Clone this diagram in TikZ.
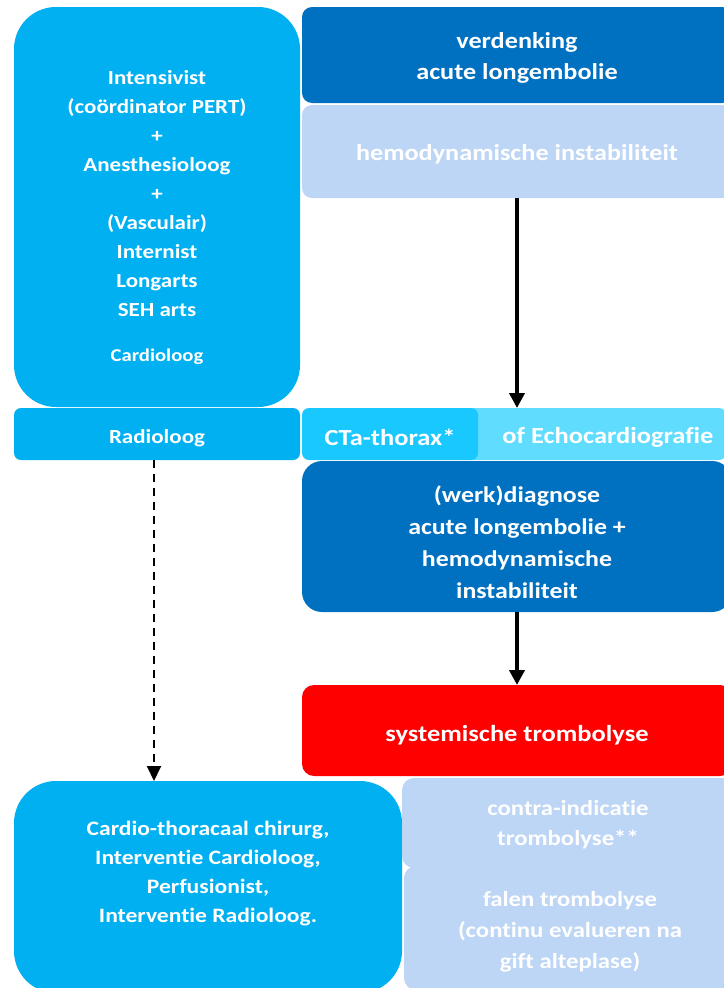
\documentclass[tikz,border=0pt]{standalone}
\usepackage{fontspec}
\setmainfont{Carlito}[FakeStretch=1.15, Ligatures=NoCommon]
\usetikzlibrary{arrows.meta}
\definecolor{cyanbox}{HTML}{00B0F0}
\definecolor{darkbox}{HTML}{0070C0}
\definecolor{lightbox}{HTML}{BED6F5}
\definecolor{ctbox}{HTML}{19C8FF}
\definecolor{echobox}{HTML}{60DCFF}
\definecolor{redbox}{HTML}{FF0000}
\tikzset{
  box/.style={anchor=north west, inner sep=0pt, outer sep=0pt},
  txt/.style={inner sep=0pt, align=center, text=white},
  flow/.style={line width=4pt, -{Triangle[width=15pt,length=15pt]}},
  link/.style={line width=2pt, dash pattern=on 8pt off 6pt, -{Triangle[width=14pt,length=15pt]}},
}
\begin{document}
\begin{tikzpicture}[x=1pt,y=-1pt]
\useasboundingbox (0,0) rectangle (723,988);
% left column
\node[box, fill=cyanbox, rounded corners=42pt, minimum width=286pt, minimum height=400pt] (team) at (14,7) {};
\node[txt, yshift=-11pt, font=\bfseries\fontsize{20}{29}\selectfont] (teamT) at (team.center)
  {Intensivist\\(coördinator PERT)\\+\\Anesthesioloog\\+\\(Vasculair)\\Internist\\Longarts\\SEH arts\\[16pt]{\fontsize{18}{22}\selectfont Cardioloog}};
\node[box, fill=cyanbox, rounded corners=7pt, minimum width=286pt, minimum height=52pt] (radio) at (14,408) {};
\node[txt, yshift=-4pt, font=\bfseries\fontsize{20}{26}\selectfont] (radioT) at (radio.center) {Radioloog};
\node[box, fill=cyanbox, rounded corners=42pt, minimum width=388pt, minimum height=212pt] (interv) at (14,781) {};
\node[txt, yshift=13pt, font=\bfseries\fontsize{20.5}{29}\selectfont] (intervT) at (interv.center)
  {Cardio-thoracaal chirurg,\\Interventie Cardioloog,\\Perfusionist,\\Interventie Radioloog.};
% right column
\node[box, fill=darkbox, rounded corners=10pt, minimum width=430pt, minimum height=96pt] (verd) at (302,7) {};
\node[txt, yshift=-3pt, font=\bfseries\fontsize{22.8}{31}\selectfont] (verdT) at (verd.center)
  {verdenking\\acute longembolie};
\node[box, fill=lightbox, rounded corners=10pt, minimum width=430pt, minimum height=93pt] (hemo) at (302,105) {};
\node[txt, yshift=-3pt, font=\bfseries\fontsize{22.8}{31}\selectfont] (hemoT) at (hemo.center)
  {hemodynamische instabiliteit};
\node[box, fill=echobox, rounded corners=7pt, minimum width=260pt, minimum height=52pt] (echo) at (466,408) {};
\node[txt, yshift=-3pt, xshift=12pt, font=\bfseries\fontsize{23}{26}\selectfont] (echoT) at (echo.center)
  {of Echocardiografie};
\node[box, fill=ctbox, rounded corners=7pt, minimum width=176pt, minimum height=52pt] (cta) at (302,408) {};
\node[txt, yshift=-3pt, font=\bfseries\fontsize{23}{26}\selectfont] (ctaT) at (cta.center)
  {CTa-thorax*};
\node[box, fill=darkbox, rounded corners=20pt, minimum width=430pt, minimum height=151pt] (diag) at (302,461) {};
\node[txt, yshift=-6pt, font=\bfseries\fontsize{22.5}{32}\selectfont] (diagT) at (diag.center)
  {(werk)diagnose\\acute longembolie +\\hemodynamische\\instabiliteit};
\node[box, fill=redbox, rounded corners=12pt, minimum width=430pt, minimum height=91pt] (trombo) at (302,685) {};
\node[txt, yshift=-5pt, font=\bfseries\fontsize{23}{30}\selectfont] (tromboT) at (trombo.center)
  {systemische trombolyse};
\node[box, fill=lightbox, rounded corners=12pt, minimum width=332pt, minimum height=90pt] (contra) at (402,778) {};
\node[txt, yshift=-2pt, font=\bfseries\fontsize{21.5}{30}\selectfont] (contraT) at (contra.center)
  {contra-indicatie\\trombolyse**};
\node[box, fill=lightbox, rounded corners=12pt, minimum width=332pt, minimum height=124pt] (falen) at (404,866) {};
\node[txt, yshift=-4pt, font=\bfseries\fontsize{21.5}{31}\selectfont] (falenT) at (falen.center)
  {falen trombolyse\\(continu evalueren na\\gift alteplase)};
% connectors
\coordinate (rowtop) at (517,408);
\draw[flow] (hemo.south -| rowtop) -- (rowtop);
\draw[flow] (diag.south -| rowtop) -- (trombo.north -| rowtop);
\coordinate (dashx) at (154,0);
\draw[link] (radio.south -| dashx) -- (interv.north -| dashx);
\end{tikzpicture}
\end{document}
